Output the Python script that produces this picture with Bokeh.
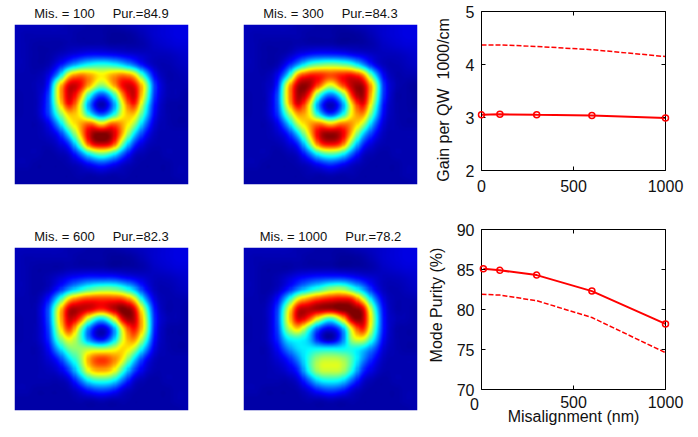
from bokeh.plotting import figure
from bokeh.layouts import column, row
from bokeh.models import LinearColorMapper, LinearAxis, FixedTicker, Range1d
from bokeh.core.properties import value
from bokeh.embed import file_html
from bokeh.resources import INLINE
import numpy as np

TOP = [[6,6,6,6,6,5,5,4,4,4,5,6,7,8,9,10,10],
       [6,5,5,5,5,5,4,4,4,3,3,4,6,8,9,10,10],
       [6,5,4,4,4,5,5,5,5,4,4,4,5,7,8,9,9]]
BOT = [[4,4,4,4,4,4,5,5,6,5,5,4,4,4,4,5,5],
       [4,4,4,4,4,4,4,4,4,4,4,4,4,4,4,4,5]]

map_100 = TOP + [
 [6,5,4,4,6,9,12,14,14,13,11,9,7,6,6,7,8],
 [6,5,4,5,12,24,34,40,42,40,34,24,12,6,5,6,7],
 [5,5,5,9,28,64,75,70,63,70,75,66,36,11,5,5,6],
 [5,5,6,13,58,90,88,68,52,68,88,88,58,17,6,5,5],
 [4,5,6,17,62,92,75,38,20,38,75,92,56,16,6,5,4],
 [4,5,6,18,56,86,62,22,5,22,62,84,46,13,5,4,4],
 [4,5,6,17,44,68,62,35,20,35,62,68,38,11,5,4,4],
 [5,5,5,10,28,56,70,78,66,78,70,54,26,8,5,4,4],
 [5,5,5,7,14,36,66,94,100,94,68,36,15,6,5,5,5],
 [5,5,5,5,8,18,48,84,92,84,48,19,8,5,5,5,5],
 [5,5,5,4,5,8,22,40,48,40,22,8,5,4,5,5,5],
 [5,5,4,4,4,5,8,14,18,14,8,5,4,4,4,5,5]] + BOT

map_300 = TOP + [
 [6,5,4,4,6,11,15,17,17,16,13,10,7,6,6,7,8],
 [6,5,4,5,14,29,44,50,52,50,44,29,13,6,5,6,7],
 [5,5,5,10,32,72,84,84,80,84,86,74,38,11,5,5,5],
 [5,5,6,14,60,94,96,78,60,78,94,94,60,16,6,4,3],
 [4,5,6,18,64,96,84,42,24,42,84,96,58,16,5,4,3],
 [4,5,6,18,60,90,66,22,6,22,66,88,50,13,5,4,3],
 [4,5,6,16,46,72,64,34,18,34,64,74,40,11,5,4,4],
 [5,5,5,10,28,56,70,76,68,76,72,56,26,8,5,4,4],
 [5,5,5,7,14,34,64,92,98,92,66,34,15,6,5,5,5],
 [5,5,5,5,8,17,46,80,88,80,46,18,8,5,5,5,5],
 [5,5,5,4,5,8,22,40,46,40,22,8,5,4,5,5,5],
 [5,5,4,4,4,5,8,14,18,14,8,5,4,4,4,5,5]] + BOT

map_600 = TOP + [
 [6,5,4,5,8,12,15,17,17,17,14,11,8,6,6,7,8],
 [6,5,4,6,14,26,36,44,48,48,42,30,14,6,5,6,7],
 [5,5,5,13,36,66,78,82,82,82,80,64,30,9,5,5,5],
 [5,5,6,19,58,92,94,90,84,92,100,90,50,13,5,5,4],
 [4,5,6,19,60,92,80,50,35,55,90,94,58,15,6,5,4],
 [4,5,6,17,54,82,52,20,7,22,64,86,58,14,5,4,4],
 [4,5,6,15,44,62,46,22,12,28,60,74,46,12,5,4,4],
 [5,5,5,11,30,48,52,55,54,58,66,56,30,9,5,4,4],
 [5,5,5,8,16,34,50,74,82,76,62,36,15,6,5,5,5],
 [5,5,5,6,9,20,42,66,72,66,44,21,9,5,5,5,5],
 [5,5,5,5,5,9,24,40,44,40,24,9,5,4,5,5,5],
 [5,5,4,4,4,5,10,17,20,17,9,5,4,4,4,5,5]] + BOT

map_1000 = TOP + [
 [6,5,4,5,8,12,15,17,18,18,15,11,8,6,6,7,8],
 [6,5,4,6,13,24,34,42,50,52,42,28,13,6,5,6,7],
 [5,5,5,12,34,62,74,82,86,88,84,60,28,9,5,5,5],
 [5,5,6,17,54,90,94,96,96,100,100,90,44,12,5,5,4],
 [4,5,6,18,58,90,80,56,42,62,94,94,50,13,6,5,4],
 [4,5,6,17,50,66,42,18,11,24,64,84,46,13,5,4,4],
 [4,5,6,15,35,40,32,12,5,20,54,60,36,11,5,4,4],
 [5,5,5,11,24,34,37,38,38,38,40,34,22,8,5,4,4],
 [5,5,5,8,14,26,42,54,56,54,44,27,14,6,5,5,5],
 [5,5,5,6,9,17,40,56,58,56,40,18,9,5,5,5,5],
 [5,5,5,5,5,9,23,37,40,37,23,9,5,4,5,5,5],
 [5,5,4,4,4,5,10,17,20,17,9,5,4,4,4,5,5]] + BOT

GAP = " \u00a0\u00a0\u00a0\u00a0"
titles = ["Mis. = 100" + GAP + "Pur.=84.9", "Mis. = 300" + GAP + "Pur.=84.3",
          "Mis. = 600" + GAP + "Pur.=82.3", "Mis. = 1000" + GAP + "Pur.=78.2"]

mis = [0, 100, 300, 600, 1000]
gain_solid = [3.05, 3.06, 3.05, 3.04, 2.99]
gain_dash = [4.37, 4.37, 4.34, 4.28, 4.15]
purity_x = [10, 100, 300, 600, 1000]
purity_solid = [85.1, 84.9, 84.3, 82.3, 78.2]
purity_dash = [81.9, 81.8, 81.1, 79.0, 74.6]

FONT = "Liberation Sans"
INK = "#111111"
NB = "\u00a0"

def jet():
    out = []
    for i in range(256):
        v = i / 255
        r = np.clip(min(4 * v - 1.5, 4.5 - 4 * v), 0, 1)
        g = np.clip(min(4 * v - 0.5, 3.5 - 4 * v), 0, 1)
        b = np.clip(min(4 * v + 0.5, 2.5 - 4 * v), 0, 1)
        out.append("#%02x%02x%02x" % (int(r * 255), int(g * 255), int(b * 255)))
    return out

JET = jet()

def smooth(grid, k=10):
    a = np.array(grid, dtype=float) / 100
    def along(m):
        n = m.shape[0]
        t = np.linspace(0, n - 1, (n - 1) * k + 1)
        i = np.clip(t.astype(int), 0, n - 2)
        f = (t - i)[:, None]
        p0 = m[np.clip(i - 1, 0, n - 1)]
        p1 = m[i]
        p2 = m[i + 1]
        p3 = m[np.clip(i + 2, 0, n - 1)]
        return 0.5 * (2 * p1 + (p2 - p0) * f + (2 * p0 - 5 * p1 + 4 * p2 - p3) * f ** 2
                      + (3 * p1 - p0 - 3 * p2 + p3) * f ** 3)
    return np.clip(along(along(a).T).T, 0, 1)

def heat(grid, title, width, height, left, top):
    p = figure(width=width, height=height, output_backend="svg", toolbar_location=None,
               x_range=Range1d(0, 1), y_range=Range1d(0, 1), tools="", frame_align=False,
               min_border_left=left, min_border_top=top, min_border_right=width - left - 174,
               min_border_bottom=height - top - 163, title=title)
    p.title.align = "center"
    p.title.text_font = FONT
    p.title.text_font_size = "13px"
    p.title.text_font_style = "normal"
    p.title.text_color = INK
    p.title.standoff = 7
    p.axis.visible = False
    p.grid.visible = False
    p.outline_line_color = None
    mapper = LinearColorMapper(palette=JET, low=0, high=1)
    p.image(image=[smooth(grid)[::-1]], x=0, y=0, dw=1, dh=1, color_mapper=mapper)
    return p

def style_axis(ax, ticks):
    ax.ticker = FixedTicker(ticks=ticks)
    ax.minor_tick_line_color = None
    ax.major_tick_in = 4
    ax.major_tick_out = 0
    ax.major_tick_line_color = "black"
    ax.axis_line_color = "black"
    ax.major_label_text_font = FONT
    ax.major_label_text_font_size = "16px"
    ax.major_label_text_color = INK
    ax.axis_label_text_font = FONT
    ax.axis_label_text_font_size = "16px"
    ax.axis_label_text_font_style = "normal"
    ax.axis_label_text_color = INK

def curve(height, top, bottom, ylo, yhi, yticks, xs_solid, solid, dash, xstandoff, ylabel, ystandoff, width=260, left=51):
    p = figure(width=width, height=height, output_backend="svg", toolbar_location=None,
               x_range=Range1d(0, 1000), y_range=Range1d(ylo, yhi), tools="", frame_align=False,
               min_border_left=left, min_border_right=25, min_border_top=top, min_border_bottom=bottom)
    p.grid.visible = False
    p.outline_line_color = None
    xax = p.below[0]
    yax = p.left[0]
    style_axis(xax, [0, 500, 1000])
    style_axis(yax, yticks)
    yax.major_label_standoff = 7
    yax.axis_label = ylabel
    yax.axis_label_standoff = ystandoff
    xax.major_label_standoff = xstandoff
    for side, ticks in (("right", yticks), ("above", [0, 500, 1000])):
        ax = LinearAxis()
        style_axis(ax, ticks)
        ax.major_label_text_color = None
        ax.major_label_text_font_size = "1px"
        ax.major_label_standoff = 0
        p.add_layout(ax, side)
    p.line(mis, dash, line_color="red", line_width=1.5, line_dash="5 2")
    p.line(xs_solid, solid, line_color="red", line_width=2)
    p.scatter(xs_solid, solid, marker="circle", size=6, fill_color=None,
              line_color="red", line_width=1.5, level="overlay")
    return p

f1 = heat(map_100, titles[0], 230, 208, 14, 21)
f2 = heat(map_300, titles[1], 200, 208, 13, 21)
f3 = curve(208, 11, 38, 2, 5, [2, 3, 4, 5], mis, gain_solid, gain_dash, 9,
           "Gain per QW " + NB + "1000/cm" + NB * 4, 11)

f4 = heat(map_600, titles[2], 230, 229, 14, 39)
f5 = heat(map_1000, titles[3], 190, 229, 13, 39)
f6 = curve(229, 21, 48, 70, 90, [70, 75, 80, 85, 90], purity_x, purity_solid, purity_dash, 6,
           NB * 2 + "Mode Purity (%)", 9, width=270, left=61)
f6.below[0].major_label_overrides = {0: ""}
f6.below[0].axis_label = "Misalignment (nm)"
f6.below[0].axis_label_standoff = -3
f6.text(x=[0], y=[70], text=["0"], x_offset=-7, y_offset=14, text_font=value(FONT),
        text_font_size="16px", text_color=INK, text_align="center", text_baseline="middle",
        level="overlay")

page = column(row(f1, f2, f3, spacing=0), row(f4, f5, f6, spacing=0), spacing=0, margin=0)
open("out.html", "w").write(file_html(page, INLINE))
